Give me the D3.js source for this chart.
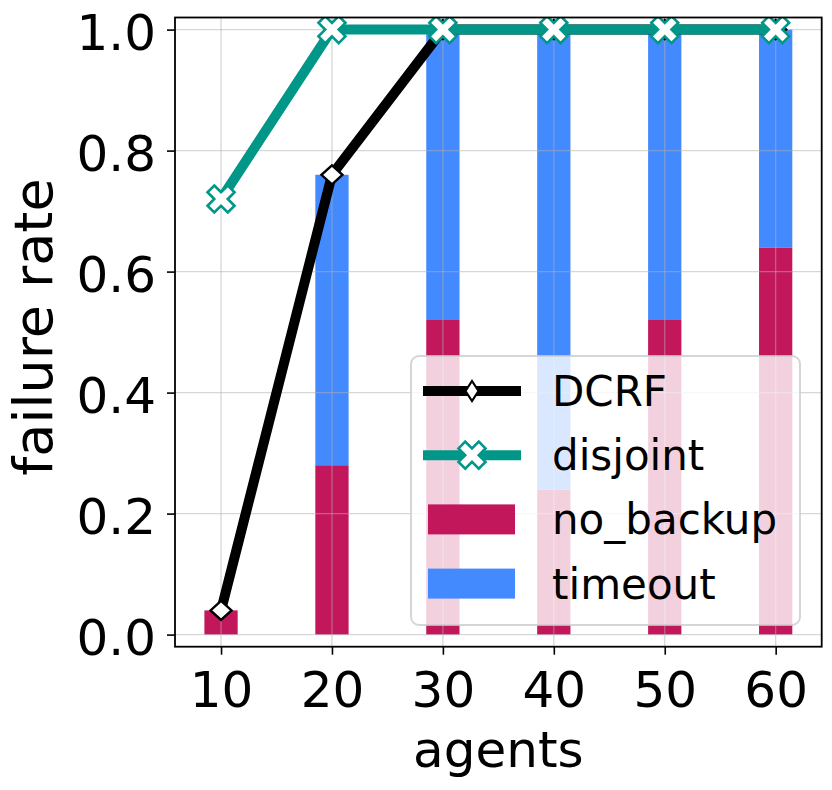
<!DOCTYPE html>
<html>
<head>
<meta charset="utf-8">
<style>
body { margin: 0; background: #fff; }
svg { font-family: "DejaVu Sans", sans-serif; }
.axis text { font-size: 50px; fill: #000; }
.axis line { stroke: #000; stroke-width: 1.6; }
.grid line { stroke: #b0b0b0; stroke-opacity: 0.5; stroke-width: 1.3; }
.frame { fill: none; stroke: #000; stroke-width: 1.8; }
.legend text { font-size: 42px; fill: #000; }
</style>
</head>
<body>
<svg width="832" height="790"></svg>
<script src="https://d3js.org/d3.v7.min.js"></script>
<script>

// values
var agents = [10, 20, 30, 40, 50, 60];
var noBackup = [0.04, 0.28, 0.52, 0.24, 0.52, 0.64];
var timeout = [0, 0.48, 0.48, 0.76, 0.48, 0.36];
var dcrf = [0.04, 0.76, 1, 1, 1, 1];
var disjoint = [0.72, 1, 1, 1, 1, 1];
var yTicks = [0, 0.2, 0.4, 0.6, 0.8, 1.0];
var legendNames = ["DCRF", "disjoint", "no_backup", "timeout"];

var colNoBackup = "#C2185B",
    colTimeout = "#448AFF",
    colDisjoint = "#009688";

// plot area edges (window.top is reserved, so no "top" here)
var svg = d3.select("svg"),
    pLeft = 175, pRight = 821.7, pTop = 17.5, pBottom = 646.7;

var x = d3.scaleLinear().domain([5.85, 64.15]).range([pLeft, pRight]);
var y = d3.scaleLinear().domain([-0.02, 1.02]).range([pBottom, pTop]);
var barW = x(3) - x(0);

svg.append("defs").append("clipPath")
    .attr("id", "clip")
  .append("rect")
    .attr("x", pLeft).attr("y", pTop)
    .attr("width", pRight - pLeft).attr("height", pBottom - pTop);

var plot = svg.append("g").attr("clip-path", "url(#clip)");

//stacked bars
var bars = agents.map(function(a, i) {
  return {a: a, nb: noBackup[i], to: timeout[i]};
});

plot.selectAll(".nb")
  .data(bars)
  .enter().append("rect")
    .attr("class", "nb")
    .attr("x", function(d) { return x(d.a) - barW / 2; })
    .attr("width", barW)
    .attr("y", function(d) { return y(d.nb); })
    .attr("height", function(d) { return y(0) - y(d.nb); })
    .attr("fill", colNoBackup);

plot.selectAll(".to")
  .data(bars.filter(function(d) { return d.to > 0; }))
  .enter().append("rect")
    .attr("class", "to")
    .attr("x", function(d) { return x(d.a) - barW / 2; })
    .attr("width", barW)
    .attr("y", function(d) { return y(d.nb + d.to); })
    .attr("height", function(d) { return y(d.nb) - y(d.nb + d.to); })
    .attr("fill", colTimeout);

//grid sits above the bars, under the lines
var grid = plot.append("g").attr("class", "grid");
grid.selectAll(".gx")
  .data(agents)
  .enter().append("line")
    .attr("x1", function(d) { return x(d); })
    .attr("x2", function(d) { return x(d); })
    .attr("y1", pTop).attr("y2", pBottom);
grid.selectAll(".gy")
  .data(yTicks)
  .enter().append("line")
    .attr("y1", function(d) { return y(d); })
    .attr("y2", function(d) { return y(d); })
    .attr("x1", pLeft).attr("x2", pRight);

//marker shapes
function diamond(w, h) {
  return function(cx, cy) {
    return "M" + cx + "," + (cy - h) + "L" + (cx + w) + "," + cy +
      "L" + cx + "," + (cy + h) + "L" + (cx - w) + "," + cy + "Z";
  };
}
var plotDiamond = diamond(10.5, 9.5),
    legDiamond = diamond(6.5, 10);
var xPts = [[-1,-2],[0,-1],[1,-2],[2,-1],[1,0],[2,1],[1,2],[0,1],[-1,2],[-2,1],[-1,0],[-2,-1]];
function xFilled(cx, cy) {
  var s = 27 / 4;
  return "M" + xPts.map(function(p) { return (cx + p[0] * s) + "," + (cy + p[1] * s); }).join("L") + "Z";
}

var line = d3.line()
  .x(function(d, i) { return x(agents[i]); })
  .y(function(d) { return y(d); });

function drawSeries(g, vals, color, marker, mStroke, mWidth) {
  g.append("path")
    .datum(vals)
    .attr("d", line)
    .attr("fill", "none")
    .attr("stroke", color)
    .attr("stroke-width", 10)
    .attr("stroke-linecap", "square")
    .attr("stroke-linejoin", "round");
  g.selectAll(".m")
    .data(vals)
    .enter().append("path")
      .attr("d", function(d, i) { return marker(x(agents[i]), y(d)); })
      .attr("fill", "#fff")
      .attr("stroke", mStroke)
      .attr("stroke-width", mWidth);
}

drawSeries(plot.append("g"), dcrf, "#000", plotDiamond, "#000", 2.4);
drawSeries(plot.append("g"), disjoint, colDisjoint, xFilled, colDisjoint, 2.6);

//axes
svg.append("g")
    .attr("class", "axis")
    .attr("transform", "translate(0," + pBottom + ")")
    .call(d3.axisBottom(x).tickValues(agents).tickSize(8).tickPadding(17))
    .call(function(g) { g.select(".domain").remove(); });

svg.append("g")
    .attr("class", "axis")
    .attr("transform", "translate(" + pLeft + ",0)")
    .call(d3.axisLeft(y).tickValues(yTicks).tickSize(8).tickPadding(11)
      .tickFormat(d3.format(".1f")))
    .call(function(g) { g.select(".domain").remove(); })
    .selectAll("text").attr("dy", "0.4em");

svg.selectAll(".axis").attr("font-family", null).attr("font-size", null);

svg.append("rect")
    .attr("class", "frame")
    .attr("x", pLeft).attr("y", pTop)
    .attr("width", pRight - pLeft).attr("height", pBottom - pTop);

svg.append("text")
    .attr("x", (pLeft + pRight) / 2)
    .attr("y", 767)
    .attr("text-anchor", "middle")
    .attr("font-size", 50)
    .text("agents");

svg.append("text")
    .attr("transform", "translate(52,327) rotate(-90)")
    .attr("text-anchor", "middle")
    .attr("font-size", 54)
    .text("failure rate");

//legend
var leg = svg.append("g").attr("class", "legend");
leg.append("rect")
    .attr("x", 411).attr("y", 356)
    .attr("width", 389).attr("height", 269)
    .attr("rx", 8)
    .attr("fill", "#fff").attr("fill-opacity", 0.8)
    .attr("stroke", "#cccccc").attr("stroke-opacity", 0.8)
    .attr("stroke-width", 2);

var rowY = function(i) { return 391 + i * 64.2; };
var hx0 = 423, hx1 = 521, hxm = (hx0 + hx1) / 2;

[["#000", legDiamond, "#000", 2.2], [colDisjoint, xFilled, colDisjoint, 2.6]].forEach(function(s, i) {
  leg.append("line")
    .attr("x1", hx0).attr("x2", hx1)
    .attr("y1", rowY(i)).attr("y2", rowY(i))
    .attr("stroke", s[0]).attr("stroke-width", 10);
  leg.append("path")
    .attr("d", s[1](hxm, rowY(i)))
    .attr("fill", "#fff")
    .attr("stroke", s[2]).attr("stroke-width", s[3]);
});

[colNoBackup, colTimeout].forEach(function(c, i) {
  leg.append("rect")
    .attr("x", 428).attr("y", rowY(i + 2) - 15)
    .attr("width", 87).attr("height", 30)
    .attr("fill", c);
});

leg.selectAll(".lt")
  .data(legendNames)
  .enter().append("text")
    .attr("x", 552)
    .attr("y", function(d, i) { return rowY(i) + 15; })
    .text(function(d) { return d; });

</script>
</body>
</html>
